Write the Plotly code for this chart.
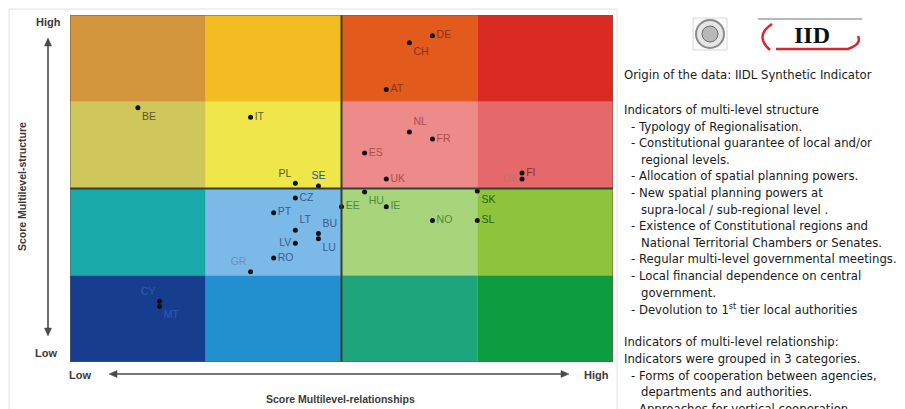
import plotly.graph_objects as go

# ---------------- data ----------------
countries = ["BE", "IT", "PL", "SE", "CZ", "PT", "LT", "BU", "LU", "LV", "RO", "GR",
             "CY", "MT", "DE", "CH", "AT", "NL", "FR", "ES", "UK", "FI", "DK",
             "HU", "SK", "EE", "IE", "NO", "SL"]
relationships = [0.50, 1.33, 1.66, 1.83, 1.66, 1.50, 1.66, 1.83, 1.83, 1.66, 1.50, 1.33,
                 0.66, 0.66, 2.67, 2.50, 2.33, 2.50, 2.67, 2.17, 2.33, 3.33, 3.33,
                 2.17, 3.00, 2.00, 2.33, 2.67, 3.00]
structure = [2.93, 2.82, 2.06, 2.03, 1.89, 1.72, 1.52, 1.48, 1.42, 1.37, 1.20, 1.04,
             0.70, 0.64, 3.76, 3.68, 3.14, 2.65, 2.57, 2.41, 2.11, 2.18, 2.11,
             1.96, 1.97, 1.79, 1.79, 1.63, 1.63]
label_pos = ["bottom right", "middle right", "top left", "top center", "middle right",
             "middle right", "top right", "top right", "bottom right", "middle left",
             "middle right", "top left", "top left", "bottom right",
             "middle right", "bottom right", "middle right", "top right", "middle right",
             "middle right", "middle right", "middle right", "middle left",
             "bottom right", "bottom right", "middle right", "middle right",
             "middle right", "middle right"]
label_col = ["#5E5628", "#6A6230", "#5E5628", "#2F4FA0", "#3C5C8C",
             "#3C5C8C", "#3C5C8C", "#3C5C8C", "#3C5C8C", "#3C5C8C",
             "#3C5C8C", "#6F8FB8", "#2A5CB0", "#2A5CB0",
             "#8A3416", "#8A3416", "#8A3416", "#B04C4C", "#B04C4C",
             "#B04C4C", "#B04C4C", "#8E2C2C", "#C66E6E",
             "#4E8A3E", "#2E5A1E", "#4E8A3E", "#4E8A3E", "#4E8A3E", "#2E5A1E"]

# cell colours, rows from bottom (structure low) to top (high), cols left->right
cell_colors = [
    ["#173E8E", "#2290CE", "#1FA57C", "#0D9C3F"],
    ["#19A9A9", "#7BB9E8", "#A8D47C", "#8DC43B"],
    ["#CFC65C", "#EFE64A", "#EC8B89", "#E5696A"],
    ["#D3963C", "#F2BC22", "#E35A1D", "#DA2A24"],
]

side_lines = [
    ("Origin of the data: IIDL Synthetic Indicator", 0, 0),
    ("", 0, 1),
    ("Indicators of multi-level structure", 0, 2),
    ("- Typology of Regionalisation.", 1, 3),
    ("- Constitutional guarantee of local and/or", 1, 4),
    ("regional levels.", 2, 5),
    ("- Allocation of spatial planning powers.", 1, 6),
    ("- New spatial planning powers at", 1, 7),
    ("supra-local / sub-regional level .", 2, 8),
    ("- Existence of Constitutional regions and", 1, 9),
    ("National Territorial Chambers or Senates.", 2, 10),
    ("- Regular multi-level governmental meetings.", 1, 11),
    ("- Local financial dependence on central", 1, 12),
    ("government.", 2, 13),
    ("- Devolution to 1<sup>st</sup> tier local authorities", 1, 14),
    ("", 0, 15),
    ("Indicators of multi-level relationship:", 0, 16),
    ("Indicators were grouped in 3 categories.", 0, 17),
    ("- Forms of cooperation between agencies,", 1, 18),
    ("departments and authorities.", 2, 19),
    ("- Approaches for vertical cooperation", 1, 20),
]

# ---------------- layout helpers (page pixel coords; page body has 8px margin) ----------------
OFF = 8
W, H = 905 - OFF, 409 - OFF
L, R, T, B = 70, 613, 15, 362


def px(xp):
    return (xp - L) / (R - L)


def py(yp):
    return (B - yp) / (B - T)


def tri(pts):
    p = [f"{px(a)},{py(b)}" for a, b in pts]
    return "M " + " L ".join(p) + " Z"


fig = go.Figure()

shapes = []
for r, row in enumerate(cell_colors):
    for c, col in enumerate(row):
        shapes.append(dict(type="rect", xref="x", yref="y", x0=c, x1=c + 1, y0=r, y1=r + 1,
                           fillcolor=col, line=dict(width=0), layer="below"))
# dividing lines
shapes.append(dict(type="line", xref="x", yref="y", x0=2, x1=2, y0=0, y1=4,
                   line=dict(color="#34402F", width=2)))
shapes.append(dict(type="line", xref="x", yref="y", x0=0, x1=4, y0=2, y1=2,
                   line=dict(color="#34402F", width=2)))
shapes.append(dict(type="rect", xref="x", yref="y", x0=0, x1=4, y0=0, y1=4,
                   line=dict(color="#6A5A4A", width=1)))
# panel border
shapes.append(dict(type="rect", xref="paper", yref="paper", x0=px(9), x1=px(617),
                   y0=py(412), y1=py(9), line=dict(color="#E2E2E2", width=1), layer="below"))

# axis arrows
arr_col = "#4A4A4A"
shapes.append(dict(type="line", xref="paper", yref="paper", x0=px(48), x1=px(48),
                   y0=py(44), y1=py(330), line=dict(color=arr_col, width=1.6)))
shapes.append(dict(type="path", xref="paper", yref="paper",
                   path=tri([(48, 38), (44.5, 46), (51.5, 46)]),
                   fillcolor=arr_col, line=dict(color=arr_col, width=0.5)))
shapes.append(dict(type="path", xref="paper", yref="paper",
                   path=tri([(48, 336), (44.5, 328), (51.5, 328)]),
                   fillcolor=arr_col, line=dict(color=arr_col, width=0.5)))
shapes.append(dict(type="line", xref="paper", yref="paper", x0=px(114), x1=px(564),
                   y0=py(374), y1=py(374), line=dict(color=arr_col, width=1.6)))
shapes.append(dict(type="path", xref="paper", yref="paper",
                   path=tri([(109, 374), (117, 370.5), (117, 377.5)]),
                   fillcolor=arr_col, line=dict(color=arr_col, width=0.5)))
shapes.append(dict(type="path", xref="paper", yref="paper",
                   path=tri([(569, 374), (561, 370.5), (561, 377.5)]),
                   fillcolor=arr_col, line=dict(color=arr_col, width=0.5)))

# logos (approximations)
shapes.append(dict(type="rect", xref="paper", yref="paper", x0=px(693), x1=px(727),
                   y0=py(50), y1=py(18), line=dict(color="#D8D8D8", width=1),
                   fillcolor="#FAFAFA"))
shapes.append(dict(type="circle", xref="paper", yref="paper", x0=px(696), x1=px(724),
                   y0=py(48), y1=py(20), line=dict(color="#8A8A8A", width=2),
                   fillcolor="#E6E6E6"))
shapes.append(dict(type="circle", xref="paper", yref="paper", x0=px(702), x1=px(718),
                   y0=py(42), y1=py(26), line=dict(color="#6A6A6A", width=1),
                   fillcolor="#B8B8B8"))
shapes.append(dict(type="path", xref="paper", yref="paper",
                   path=f"M {px(772)},{py(24)} Q {px(754)},{py(36)} {px(770)},{py(50)}",
                   line=dict(color="#D8262A", width=2.5)))
shapes.append(dict(type="path", xref="paper", yref="paper",
                   path=f"M {px(776)},{py(49)} L {px(848)},{py(49)} Q {px(862)},{py(44)} {px(858)},{py(36)}",
                   line=dict(color="#D8262A", width=2.5)))
shapes.append(dict(type="line", xref="paper", yref="paper", x0=px(758), x1=px(862),
                   y0=py(19), y1=py(19), line=dict(color="#A0A0A0", width=1.5)))

fig.add_trace(go.Scatter(
    x=relationships, y=structure, mode="markers+text", text=countries,
    textposition=label_pos,
    textfont=dict(family="Liberation Sans, Arial", size=10.5, color=label_col),
    marker=dict(color="#111111", size=5),
    hoverinfo="text", showlegend=False, cliponaxis=False,
))

ann = []
# IIDL letters
ann.append(dict(xref="paper", yref="paper", x=px(812), y=py(35), text="<b>IID</b>",
                showarrow=False, font=dict(family="Liberation Serif", size=24, color="#111111"),
                xanchor="center", yanchor="middle"))
# axis end labels
lab_font = dict(family="Liberation Sans, Arial", size=11, color="#3A3A3A")
ann.append(dict(xref="paper", yref="paper", x=px(48), y=py(22), text="<b>High</b>",
                showarrow=False, font=lab_font, xanchor="center", yanchor="middle"))
ann.append(dict(xref="paper", yref="paper", x=px(46), y=py(353), text="<b>Low</b>",
                showarrow=False, font=lab_font, xanchor="center", yanchor="middle"))
ann.append(dict(xref="paper", yref="paper", x=px(80), y=py(375), text="<b>Low</b>",
                showarrow=False, font=lab_font, xanchor="center", yanchor="middle"))
ann.append(dict(xref="paper", yref="paper", x=px(596), y=py(375), text="<b>High</b>",
                showarrow=False, font=lab_font, xanchor="center", yanchor="middle"))
# axis titles
ann.append(dict(xref="paper", yref="paper", x=px(340), y=py(399),
                text="<b>Score Multilevel-relationships</b>", showarrow=False,
                font=dict(family="Liberation Sans, Arial", size=10.5, color="#3A3A3A"),
                xanchor="center", yanchor="middle"))
ann.append(dict(xref="paper", yref="paper", x=px(22), y=py(187),
                text="<b>Score Multilevel-structure</b>", showarrow=False, textangle=-90,
                font=dict(family="Liberation Sans, Arial", size=10.5, color="#3A3A3A"),
                xanchor="center", yanchor="middle"))
# side text
indent = {0: 622, 1: 629, 2: 639}
for txt, lvl, i in side_lines:
    if not txt:
        continue
    yline = 75 if i == 0 else 110 + (i - 2) * 16.6
    ann.append(dict(xref="paper", yref="paper", x=px(indent[lvl]), y=py(yline), text=txt,
                    showarrow=False, xanchor="left", yanchor="middle",
                    font=dict(family="DejaVu Sans", size=11.7, color="#1A1A1A")))

fig.update_layout(
    width=W, height=H,
    margin=dict(l=L - OFF, r=W - (R - OFF), t=T - OFF, b=H - (B - OFF)),
    paper_bgcolor="white", plot_bgcolor="white",
    xaxis=dict(range=[0, 4], showgrid=False, zeroline=False, showticklabels=False,
               ticks="", fixedrange=True),
    yaxis=dict(range=[0, 4], showgrid=False, zeroline=False, showticklabels=False,
               ticks="", fixedrange=True),
    shapes=shapes, annotations=ann,
)

fig.write_html("out.html")
